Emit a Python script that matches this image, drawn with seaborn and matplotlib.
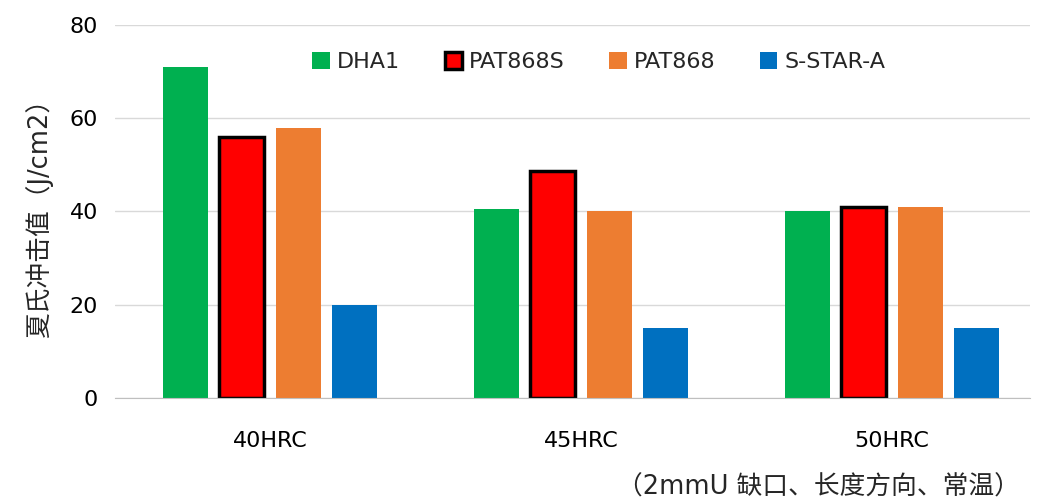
import matplotlib
matplotlib.use('Agg')
import matplotlib.pyplot as plt
import pandas as pd
import seaborn as sns

hardness = ['40HRC', '45HRC', '50HRC']
steels = ['DHA1', 'PAT868S', 'PAT868', 'S-STAR-A']
dha1 = [71, 40.5, 40]
pat868s = [56, 48.7, 41]
pat868 = [58, 40, 41]
sstar = [20, 15, 15]
colors = ['#00b050', '#ff0000', '#ed7d31', '#0070c0']

df = pd.DataFrame({
    'hardness': hardness * 4,
    'steel': [s for s in steels for _ in hardness],
    'value': dha1 + pat868s + pat868 + sstar,
})

sns.set_style('white')
plt.rcParams['font.family'] = ['DejaVu Sans', 'Noto Sans CJK SC']

fig = plt.figure(figsize=(10.43, 5.04), dpi=100)
ax = fig.add_axes([114.5 / 1043, 1 - 398 / 504, 915.5 / 1043, 373 / 504])

sns.barplot(data=df, x='hardness', y='value', hue='steel', hue_order=steels,
            palette=colors, width=0.727, gap=0.2, ax=ax, saturation=1,
            linewidth=0, legend=True)

# black outline on PAT868S bars
for bar in ax.containers[1]:
    bar.set_edgecolor('black')
    bar.set_linewidth(2.5)

ax.set_ylim(0, 80)
ax.set_xlim(-0.5, 2.444)
ax.set_yticks([0, 20, 40, 60, 80])
ax.yaxis.grid(True, color='#d9d9d9', linewidth=1)
ax.set_axisbelow(True)
for s in ['top', 'right', 'left']:
    ax.spines[s].set_visible(False)
ax.spines['bottom'].set_color('#bfbfbf')
ax.tick_params(axis='both', length=0, labelsize=16, colors='black')
ax.tick_params(axis='x', pad=24)
ax.tick_params(axis='y', pad=12)
ax.set_xlabel('')
ax.set_ylabel('夏氏冲击值（J/cm2）', fontsize=18.5, labelpad=12)

handles, labels = ax.get_legend_handles_labels()
handles[1].set_edgecolor('black')
handles[1].set_linewidth(2.5)
ax.legend(handles, labels, loc='center', bbox_to_anchor=(0.529, 0.90), ncol=4,
          frameon=False, fontsize=16, handlelength=0.8, handleheight=0.8,
          handletextpad=0.3, columnspacing=2.0)

fig.text(1020 / 1043, 1 - 488 / 504, '（2mmU 缺口、长度方向、常温）', fontsize=18.5,
         ha='right', va='center')

fig.savefig('out.png', dpi=100)
